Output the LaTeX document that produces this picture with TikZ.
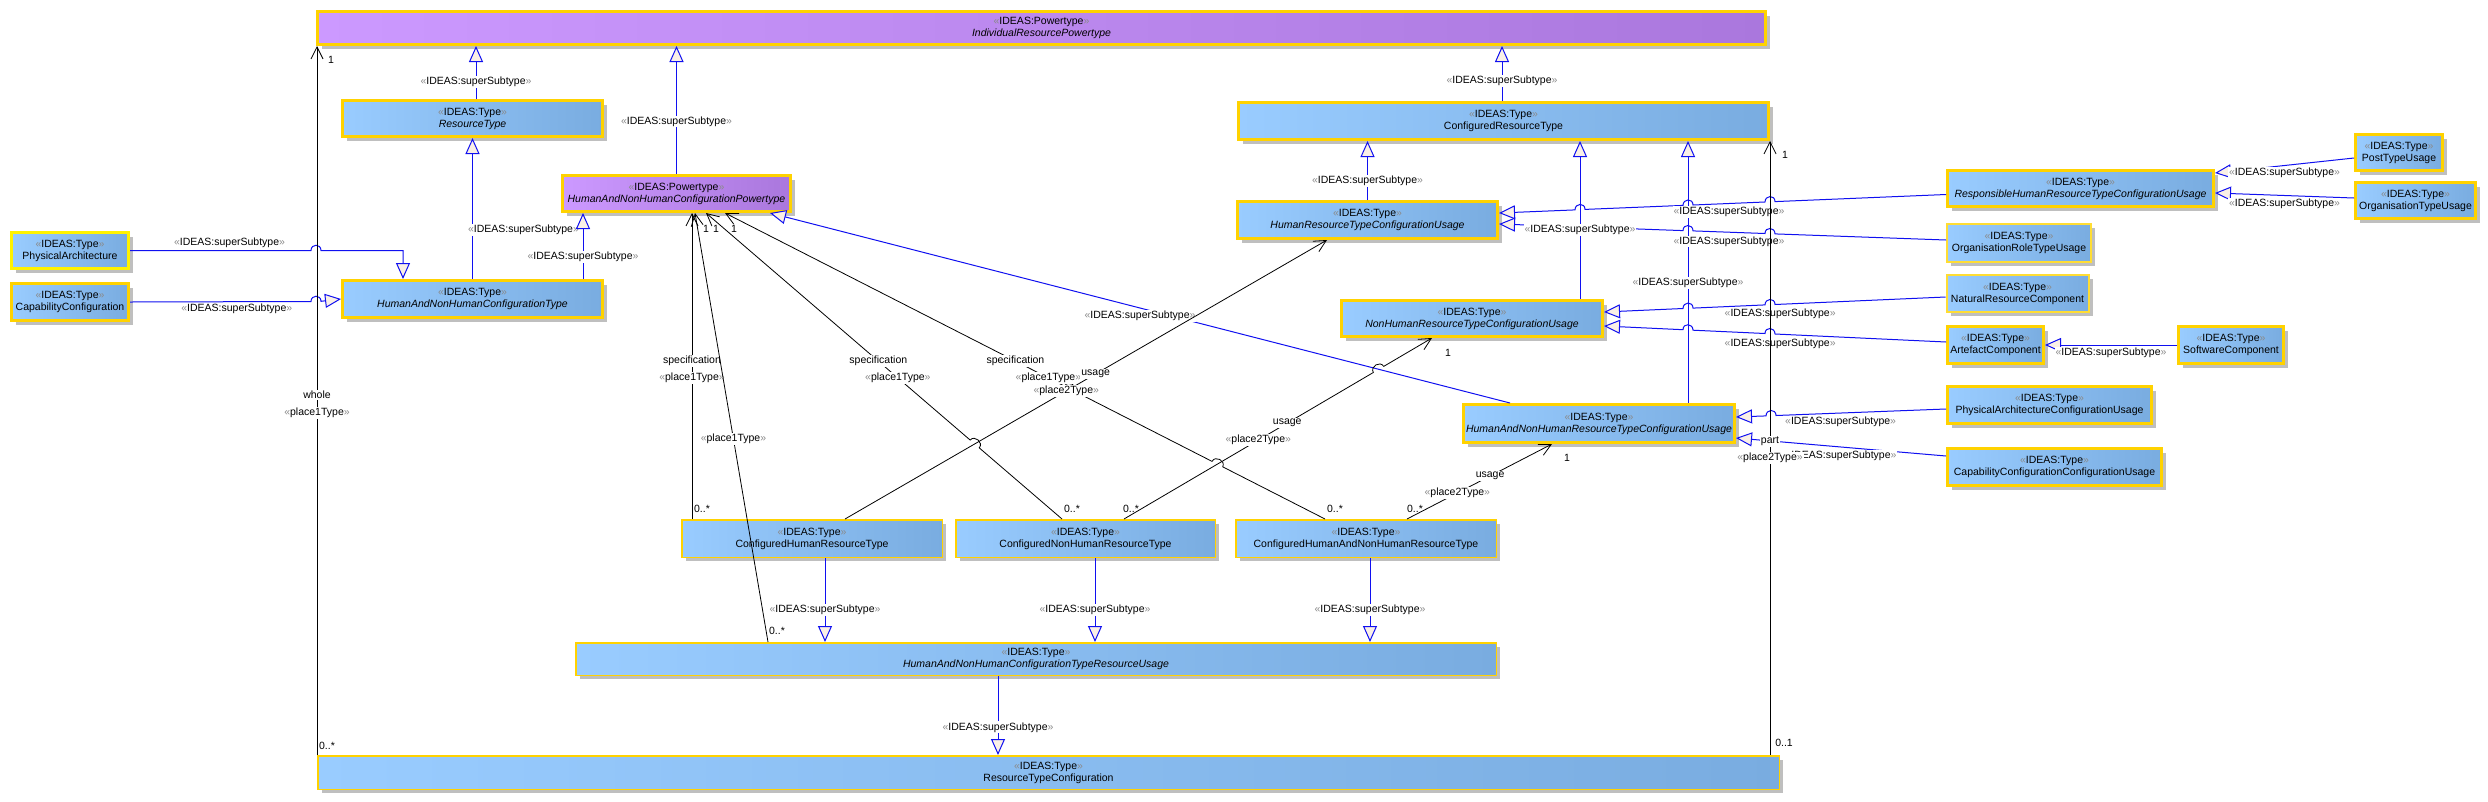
\documentclass[tikz,border=0pt]{standalone}
\usepackage{fontspec}
\setmainfont{Liberation Sans}
\usetikzlibrary{arrows.meta,shadows,calc}
\definecolor{bA}{HTML}{99CCFF}
\definecolor{bB}{HTML}{79ACE0}
\definecolor{pA}{HTML}{CC99FF}
\definecolor{pB}{HTML}{AA77DD}
\definecolor{ybord}{HTML}{FFD200}
\definecolor{ybright}{HTML}{FFF200}
\definecolor{ylight}{HTML}{FFDD33}
\definecolor{shc}{HTML}{BFBFBF}
\definecolor{lblue}{HTML}{1010F0}
\definecolor{trif}{HTML}{FAF0E6}
\definecolor{guil}{HTML}{8A8A8A}
\newcommand{\gq}[1]{{\color{guil}«}#1{\color{guil}»}}
\newcommand{\nf}{\fontsize{10.5}{12}\selectfont}
\tikzset{
  boxb/.style={draw=ybord, line width=3pt, left color=bA, right color=bB,
    align=center, font=\nf, inner sep=0pt, text=black,
    drop shadow={shadow xshift=4pt, shadow yshift=-4pt, fill=shc, opacity=1}},
  boxp/.style={boxb, left color=pA, right color=pB},
  thinb/.style={boxb, line width=1.5pt},
  midb/.style={boxb, line width=2pt, draw=ylight},
  gen/.style={draw=lblue, line width=1pt, -{Triangle[length=16pt,width=14pt,fill=trif]}},
  assoc/.style={draw=black, line width=0.8pt, -{Straight Barb[length=12pt,width=12pt]}},
  lbl/.style={font=\nf, fill=white, inner sep=1pt, text=black},
  mult/.style={font=\nf, inner sep=0pt, text=black},
}
\begin{document}
\begin{tikzpicture}[x=1pt,y=-1pt]
\fill[white] (0,0) rectangle (2488,801);
\useasboundingbox (0,0) rectangle (2488,801);

% ---------------- nodes ----------------
\node[boxp, minimum width=1448pt, minimum height=33pt] (irp) at (1041.5,28) {\gq{IDEAS:Powertype}\\\textit{IndividualResourcePowertype}};
\node[boxb, minimum width=260pt, minimum height=36pt] (rt) at (472.5,118.5) {\gq{IDEAS:Type}\\\textit{ResourceType}};
\node[boxp, minimum width=228pt, minimum height=36pt] (hanhcp) at (676.5,193.5) {\gq{IDEAS:Powertype}\\\textit{HumanAndNonHumanConfigurationPowertype}};
\node[boxb, minimum width=260pt, minimum height=37pt] (hanhct) at (472.5,299) {\gq{IDEAS:Type}\\\textit{HumanAndNonHumanConfigurationType}};
\node[boxb, draw=ybright, minimum width=117pt, minimum height=36pt] (pa) at (70,250.5) {\gq{IDEAS:Type}\\PhysicalArchitecture};
\node[boxb, minimum width=117pt, minimum height=37pt] (cc) at (70,302) {\gq{IDEAS:Type}\\CapabilityConfiguration};
\node[boxb, minimum width=530pt, minimum height=37pt] (crt) at (1503.5,121) {\gq{IDEAS:Type}\\ConfiguredResourceType};
\node[boxb, minimum width=260pt, minimum height=37pt] (hrtcu) at (1367.5,220) {\gq{IDEAS:Type}\\\textit{HumanResourceTypeConfigurationUsage}};
\node[boxb, minimum width=261pt, minimum height=36pt] (nhrtcu) at (1472,318.5) {\gq{IDEAS:Type}\\\textit{NonHumanResourceTypeConfigurationUsage}};
\node[boxb, minimum width=271pt, minimum height=38pt] (hanhrtcu) at (1599,423.5) {\gq{IDEAS:Type}\\\textit{HumanAndNonHumanResourceTypeConfigurationUsage}};
\node[boxb, minimum width=266pt, minimum height=36pt] (rhrtcu) at (2080.5,188.5) {\gq{IDEAS:Type}\\\textit{ResponsibleHumanResourceTypeConfigurationUsage}};
\node[boxb, minimum width=87pt, minimum height=36pt] (ptu) at (2399,152.5) {\gq{IDEAS:Type}\\PostTypeUsage};
\node[boxb, minimum width=120pt, minimum height=36pt] (otu) at (2415.5,200.5) {\gq{IDEAS:Type}\\OrganisationTypeUsage};
\node[midb, minimum width=144pt, minimum height=38pt] (ortu) at (2019,243) {\gq{IDEAS:Type}\\OrganisationRoleTypeUsage};
\node[midb, minimum width=142pt, minimum height=37pt] (nrc) at (2017.5,293.5) {\gq{IDEAS:Type}\\NaturalResourceComponent};
\node[boxb, minimum width=96pt, minimum height=37pt] (ac) at (1995.5,345) {\gq{IDEAS:Type}\\ArtefactComponent};
\node[boxb, minimum width=105pt, minimum height=37pt] (sc) at (2231,345) {\gq{IDEAS:Type}\\SoftwareComponent};
\node[boxb, minimum width=204pt, minimum height=37pt] (pacu) at (2049.5,405) {\gq{IDEAS:Type}\\PhysicalArchitectureConfigurationUsage};
\node[boxb, minimum width=214pt, minimum height=37pt] (cccu) at (2054.5,467) {\gq{IDEAS:Type}\\CapabilityConfigurationConfigurationUsage};
\node[thinb, minimum width=260.5pt, minimum height=37.5pt] (chrt) at (812,538.5) {\gq{IDEAS:Type}\\ConfiguredHumanResourceType};
\node[thinb, minimum width=259.5pt, minimum height=37.5pt] (cnhrt) at (1085.5,538.5) {\gq{IDEAS:Type}\\ConfiguredNonHumanResourceType};
\node[thinb, minimum width=260.5pt, minimum height=37.5pt] (chanhrt) at (1366,538.5) {\gq{IDEAS:Type}\\ConfiguredHumanAndNonHumanResourceType};
\node[thinb, minimum width=920.5pt, minimum height=32.5pt] (hanhctru) at (1036,659) {\gq{IDEAS:Type}\\\textit{HumanAndNonHumanConfigurationTypeResourceUsage}};
\node[thinb, minimum width=1461.5pt, minimum height=33.5pt] (rtc) at (1048.5,772.5) {\gq{IDEAS:Type}\\ResourceTypeConfiguration};

% ---------------- helper coordinates ----------------
\coordinate (g1s) at ([xshift=3.5pt]rt.north);
\coordinate (g3s) at ([xshift=-1.5pt]crt.north);
\coordinate (g5s) at ([xshift=110.5pt]hanhct.north);
\coordinate (g6t) at ([xshift=-69.5pt]hanhct.north);
\coordinate (g9s) at ([xshift=108pt]nhrtcu.north);
\coordinate (g10s) at ([xshift=89pt]hanhrtcu.north);
\coordinate (g21s) at ([xshift=-38pt]hanhctru.south);
\coordinate (g22s) at ([xshift=13pt]chrt.south);
\coordinate (g23s) at ([xshift=9.5pt]cnhrt.south);
\coordinate (g24s) at ([xshift=4pt]chanhrt.south);
\coordinate (a1) at ([xshift=-120pt]chrt.north);
\coordinate (b1) at ([xshift=-268pt]hanhctru.north);
\coordinate (b2) at ([xshift=18.5pt]hanhcp.south);
\coordinate (c1) at ([xshift=-23.5pt]cnhrt.north);
\coordinate (c2) at ([xshift=29.5pt]hanhcp.south);
\coordinate (d1) at ([xshift=-41pt]chanhrt.north);
\coordinate (d2) at ([xshift=48.5pt]hanhcp.south);
\coordinate (e1) at ([xshift=33pt]chrt.north);
\coordinate (e2) at ([xshift=-40.5pt]hrtcu.south);
\coordinate (f1) at ([xshift=38.5pt]cnhrt.north);
\coordinate (f2) at ([xshift=-40pt]nhrtcu.south);
\coordinate (h1) at ([xshift=41pt]chanhrt.north);
\coordinate (h2) at ([xshift=-47pt]hanhrtcu.south);
\coordinate (k1) at ([xshift=-89pt]hanhrtcu.north);
\coordinate (k2) at ([xshift=93.5pt]hanhcp.south);

% ---------------- generalisations ----------------
\draw[gen] (g1s) -- node[lbl,pos=0.32]{\gq{IDEAS:superSubtype}} (g1s |- irp.south);
\draw[gen] (hanhcp.north) -- node[lbl,pos=0.41]{\gq{IDEAS:superSubtype}} (hanhcp.north |- irp.south);
\draw[gen] (g3s) -- node[lbl,pos=0.36]{\gq{IDEAS:superSubtype}} (g3s |- irp.south);
\draw[gen] (hanhct.north) -- node[lbl,pos=0.35,anchor=west,xshift=-6pt]{\gq{IDEAS:superSubtype}} (rt.south);
\draw[gen] (g5s) -- node[lbl,pos=0.33]{\gq{IDEAS:superSubtype}} (g5s |- hanhcp.south);
\draw[gen] (pa.east) -- node[lbl,above=1pt,pos=0.55]{\gq{IDEAS:superSubtype}} (311,250.5)
   .. controls (311,243.5) and (321,243.5) .. (321,250.5) -- (g6t |- pa.east) -- (g6t);
\draw[gen] (cc.east) -- node[lbl,below=1pt,pos=0.59]{\gq{IDEAS:superSubtype}} (311,301.5)
   .. controls (311,294.5) and (321,294.5) .. (321,301.3) -- (hanhct.west);
\draw[gen] (hrtcu.north) -- node[lbl,pos=0.32]{\gq{IDEAS:superSubtype}} (hrtcu.north |- crt.south);
\draw[gen] (g10s) -- node[lbl,pos=0.458]{\gq{IDEAS:superSubtype}} (g10s |- crt.south);
\draw[gen] ([yshift=-6pt]rhrtcu.west) -- (1775,201.6) .. controls (1775,194.6) and (1765,195) .. (1765,202)
   -- node[lbl,below=2pt]{\gq{IDEAS:superSubtype}} (1693,205) .. controls (1693,198) and (1683,198.4) .. (1683,205.4)
   -- (1585,209.4) .. controls (1585,202.4) and (1575,202.9) .. (1575,209.9) -- ([yshift=7pt]hrtcu.east);
\draw[gen] ([yshift=3pt]ortu.west) -- (1775,233.9) .. controls (1775,226.9) and (1765,226.5) .. (1765,233.5)
   -- node[lbl,below=3pt]{\gq{IDEAS:superSubtype}} (1693,230.9) .. controls (1693,223.9) and (1683,223.6) .. (1683,230.6)
   -- ([yshift=-4pt]hrtcu.east);
\draw[gen] (g9s) -- node[lbl,pos=0.437]{\gq{IDEAS:superSubtype}} (g9s |- crt.south);
\draw[gen] ([yshift=-3.5pt]nrc.west) -- node[lbl,below=3pt,pos=0.97]{\gq{IDEAS:superSubtype}} (1775,304.5)
   .. controls (1775,297.5) and (1765,297.9) .. (1765,304.9) -- (1693,308.1)
   .. controls (1693,301.1) and (1683,301.5) .. (1683,308.5) -- ([yshift=6.5pt]nhrtcu.east);
\draw[gen] ([yshift=3pt]ac.west) -- node[lbl,below=3pt,pos=0.97]{\gq{IDEAS:superSubtype}} (1775,334)
   .. controls (1775,327) and (1765,326.5) .. (1765,333.5) -- (1693,330.2)
   .. controls (1693,323.2) and (1683,322.7) .. (1683,329.7) -- ([yshift=-7.5pt]nhrtcu.east);
\draw[gen] ([yshift=-5.5pt]ptu.west) -- node[lbl,below=1pt]{\gq{IDEAS:superSubtype}} ([yshift=15.5pt]rhrtcu.east);
\draw[gen] ([yshift=2.5pt]otu.west) -- node[lbl,below=2pt]{\gq{IDEAS:superSubtype}} ([yshift=-4.5pt]rhrtcu.east);
\draw[gen] (sc.west) -- node[lbl,below=1pt]{\gq{IDEAS:superSubtype}} (ac.east);
\draw[gen] ([yshift=-4pt]pacu.west) -- node[lbl,below=2pt,pos=0.62]{\gq{IDEAS:superSubtype}} (1776,415.5)
   .. controls (1776,408.5) and (1766,408.9) .. (1766,415.9) -- ([yshift=6.5pt]hanhrtcu.east);
\draw[gen] ([yshift=11pt]cccu.west) -- node[lbl,below=2pt]{\gq{IDEAS:superSubtype}} ([yshift=-14.5pt]hanhrtcu.east);
\draw[gen] (k1) -- node[lbl,pos=0.5,yshift=-8pt]{\gq{IDEAS:superSubtype}} (k2);
\draw[gen] (g22s) -- node[lbl,pos=0.62]{\gq{IDEAS:superSubtype}} (g22s |- hanhctru.north);
\draw[gen] (g23s) -- node[lbl,pos=0.62]{\gq{IDEAS:superSubtype}} (g23s |- hanhctru.north);
\draw[gen] (g24s) -- node[lbl,pos=0.62]{\gq{IDEAS:superSubtype}} (g24s |- hanhctru.north);
\draw[gen] (g21s) -- node[lbl,pos=0.65]{\gq{IDEAS:superSubtype}} (g21s |- rtc.north);

% ---------------- associations ----------------
\draw[assoc] (rtc.north west) -- node[lbl,pos=0.482]{\gq{place1Type}} node[lbl,pos=0.508]{whole} (rtc.north west |- irp.south)
   node[mult,pos=0,xshift=10pt,yshift=9pt]{0..*} node[mult,pos=1,xshift=14pt,yshift=-14pt]{1};

\draw[assoc] (a1) -- node[lbl,pos=0.516]{specification} node[lbl,pos=0.461]{\gq{place1Type}} (a1 |- hanhcp.south)
   node[mult,pos=0,xshift=10pt,yshift=10pt]{0..*};
\draw[assoc] (b1) -- node[lbl,pos=0.473]{\gq{place1Type}} (b2)
   node[mult,pos=0,xshift=9pt,yshift=11pt]{0..*} node[mult,pos=1,xshift=11pt,yshift=-16pt]{1};

\draw[assoc] (c1) -- ($(c1)!0.2325!(c2)$) .. controls ($(c1)!0.2325!(c2)!7pt!-90:(c2)$) and ($(c1)!0.2581!(c2)!7pt!90:(c1)$) .. ($(c1)!0.2581!(c2)$) -- (c2);
\path (c1) -- node[lbl,pos=0.516]{specification} node[lbl,pos=0.461]{\gq{place1Type}} (c2)
   node[mult,pos=0,xshift=10pt,yshift=10pt]{0..*} node[mult,pos=1,xshift=10pt,yshift=-16pt]{1};

\draw[assoc] (d1) -- ($(d1)!0.1705!(d2)$) .. controls ($(d1)!0.1705!(d2)!7pt!-90:(d2)$) and ($(d1)!0.1883!(d2)!7pt!90:(d1)$) .. ($(d1)!0.1883!(d2)$)
   -- ($(d1)!0.4164!(d2)$) .. controls ($(d1)!0.4164!(d2)!7pt!-90:(d2)$) and ($(d1)!0.4342!(d2)!7pt!90:(d1)$) .. ($(d1)!0.4342!(d2)$) -- (d2);
\path (d1) -- node[lbl,pos=0.516]{specification} node[lbl,pos=0.461]{\gq{place1Type}} (d2)
   node[mult,pos=0,xshift=10pt,yshift=10pt]{0..*} node[mult,pos=1,xshift=9pt,yshift=-16pt]{1};

\draw[assoc] (e1) -- node[lbl,pos=0.52]{usage} node[lbl,pos=0.459]{\gq{place2Type}} (e2);

\draw[assoc] (f1) -- ($(f1)!0.8096!(f2)$) .. controls ($(f1)!0.8096!(f2)!7pt!90:(f2)$) and ($(f1)!0.8432!(f2)!7pt!-90:(f1)$) .. ($(f1)!0.8432!(f2)$) -- (f2);
\path (f1) -- node[lbl,pos=0.53]{usage} node[lbl,pos=0.436]{\gq{place2Type}} (f2)
   node[mult,pos=0,xshift=7pt,yshift=10pt]{0..*} node[mult,pos=1,xshift=16pt,yshift=-15pt]{1};

\draw[assoc] (h1) -- node[lbl,pos=0.573]{usage} node[lbl,pos=0.347]{\gq{place2Type}} (h2)
   node[mult,pos=0,xshift=8pt,yshift=10pt]{0..*} node[mult,pos=1,xshift=15pt,yshift=-14pt]{1};

\draw[assoc] (crt.south east |- rtc.north) -- node[lbl,pos=0.484]{\gq{place2Type}} node[lbl,pos=0.511]{part} (crt.south east)
   node[mult,pos=0,xshift=14pt,yshift=12pt]{0..1} node[mult,pos=1,xshift=15pt,yshift=-14pt]{1};
\end{tikzpicture}
\end{document}
